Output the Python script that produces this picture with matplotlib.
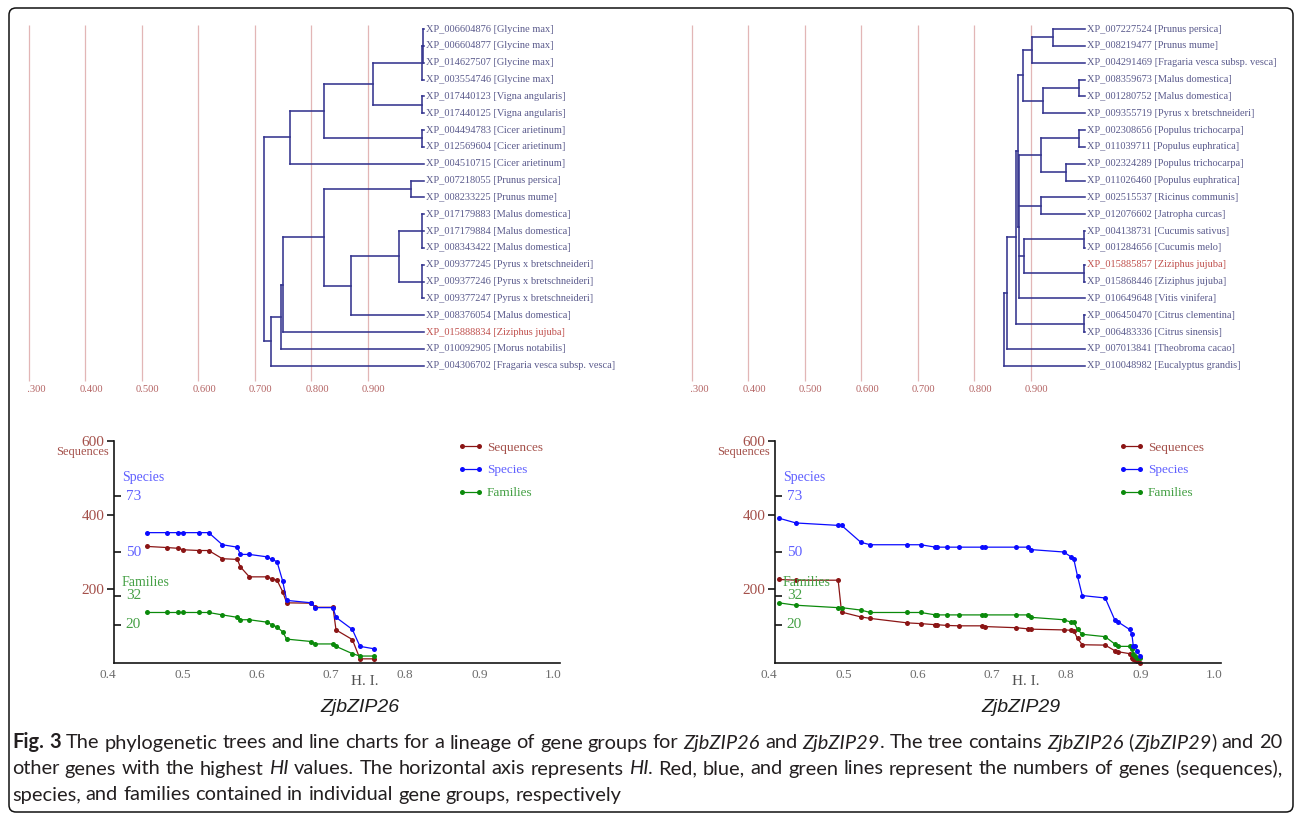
import re
import matplotlib
matplotlib.use("Agg")
import matplotlib.pyplot as plt
from matplotlib.collections import LineCollection
from matplotlib.patches import FancyBboxPatch
from matplotlib.transforms import IdentityTransform, offset_copy, blended_transform_factory

plt.rcParams['font.family'] = ['Liberation Serif', 'DejaVu Serif']

# ------------------------------------------------------------------ data
grid_values = [0.3, 0.4, 0.5, 0.6, 0.7, 0.8, 0.9]
grid_labels = ["0.300", "0.400", "0.500", "0.600", "0.700", "0.800", "0.900"]

left_ids = ["XP_006604876", "XP_006604877", "XP_014627507", "XP_003554746",
            "XP_017440123", "XP_017440125", "XP_004494783", "XP_012569604",
            "XP_004510715", "XP_007218055", "XP_008233225", "XP_017179883",
            "XP_017179884", "XP_008343422", "XP_009377245", "XP_009377246",
            "XP_009377247", "XP_008376054", "XP_015888834", "XP_010092905",
            "XP_004306702"]
left_species = ["Glycine max", "Glycine max", "Glycine max", "Glycine max",
                "Vigna angularis", "Vigna angularis", "Cicer arietinum",
                "Cicer arietinum", "Cicer arietinum", "Prunus persica",
                "Prunus mume", "Malus domestica", "Malus domestica",
                "Malus domestica", "Pyrus x bretschneideri",
                "Pyrus x bretschneideri", "Pyrus x bretschneideri",
                "Malus domestica", "Ziziphus jujuba", "Morus notabilis",
                "Fragaria vesca subsp. vesca"]
left_query = 18
left_leaf_hi = 1.0
# (node HI, [children]) ; integers are leaf indices
left_tree = (0.717, [
    (0.763, [(0.823, [(0.910, [(0.997, [(0.998, [0, 1, 2]), 3]), (0.997, [4, 5])]),
                      (0.997, [6, 7])]), 8]),
    (0.729, [(0.747, [(0.751, [(0.823, [(0.977, [9, 10]),
                                         (0.871, [(0.956, [(0.997, [11, 12, 13]),
                                                           (0.997, [14, 15, 16])]), 17])]),
                               18]), 19]), 20])])

right_ids = ["XP_007227524", "XP_008219477", "XP_004291469", "XP_008359673",
             "XP_001280752", "XP_009355719", "XP_002308656", "XP_011039711",
             "XP_002324289", "XP_011026460", "XP_002515537", "XP_012076602",
             "XP_004138731", "XP_001284656", "XP_015885857", "XP_015868446",
             "XP_010649648", "XP_006450470", "XP_006483336", "XP_007013841",
             "XP_010048982"]
right_species = ["Prunus persica", "Prunus mume", "Fragaria vesca subsp. vesca",
                 "Malus domestica", "Malus domestica", "Pyrus x bretschneideri",
                 "Populus trichocarpa", "Populus euphratica", "Populus trichocarpa",
                 "Populus euphratica", "Ricinus communis", "Jatropha curcas",
                 "Cucumis sativus", "Cucumis melo", "Ziziphus jujuba",
                 "Ziziphus jujuba", "Vitis vinifera", "Citrus clementina",
                 "Citrus sinensis", "Theobroma cacao", "Eucalyptus grandis"]
right_query = 14
right_leaf_hi = 0.996
right_tree = (0.853, [
    (0.858, [(0.874, [(0.877, [(0.887, [(0.903, [(0.939, [0, 1]), 2]),
                                        (0.923, [(0.985, [3, 4]), 5])]),
                               (0.880, [(0.918, [(0.985, [6, 7]), (0.963, [8, 9])]),
                                        (0.918, [10, 11]),
                                        (0.888, [(0.994, [12, 13]), (0.994, [14, 15])]),
                                        16])]),
                      (0.994, [17, 18])]), 19]), 20])

# line chart ZjbZIP26
hi_26 = [0.4445, 0.4710, 0.4858, 0.4930, 0.5146, 0.5272, 0.5456, 0.5658, 0.5699,
         0.5820, 0.6058, 0.6121, 0.6193, 0.6269, 0.6323, 0.6656, 0.6709, 0.6947,
         0.6988, 0.7208, 0.7311, 0.7500]
seq_26 = [315, 312, 310, 306, 304, 304, 282, 280, 260, 233, 233, 228, 224, 193,
          163, 162, 151, 151, 90, 64, 12, 12]
spe_26 = [58, 58, 58, 58, 58, 58, 53, 52, 49, 49, 48, 47, 46, 38, 30, 29, 27, 27,
          23, 18, 11, 10]
fam_26 = [25, 25, 25, 25, 25, 25, 24, 23, 22, 22, 21, 20, 19, 17, 14, 13, 12, 12,
          11, 8, 7, 7]

# line chart ZjbZIP29
hi_29 = [0.4046, 0.4278, 0.4847, 0.4893, 0.5153, 0.5280, 0.5777, 0.5959, 0.6159,
         0.6178, 0.6319, 0.6474, 0.6779, 0.6829, 0.7239, 0.7399, 0.7444, 0.7886,
         0.7986, 0.8023, 0.8073, 0.8137, 0.8446, 0.8574, 0.8624, 0.8774, 0.8806,
         0.8825, 0.8843, 0.8875, 0.8920]
seq_29 = [226, 224, 224, 138, 125, 121, 109, 107, 104, 104, 102, 101, 101, 99, 96,
          93, 92, 90, 89, 87, 67, 50, 49, 34, 31, 26, 14, 11, 8, 5, 2]
spe_29 = [64, 62, 61, 61, 54, 53, 53, 53, 52, 52, 52, 52, 52, 52, 52, 52, 51, 50,
          48, 47, 40, 32, 31, 22, 21, 18, 16, 11, 11, 9, 7]
fam_29 = [29, 28, 27, 27, 26, 25, 25, 25, 24, 24, 24, 24, 24, 24, 24, 24, 23, 22,
          21, 21, 18, 16, 15, 12, 11, 11, 10, 8, 7, 6, 6]

x_ticks = [0.4, 0.5, 0.6, 0.7, 0.8, 0.9, 1.0]
x_tick_labels = ["0.4", "0.5", "0.6", "0.7", "0.8", "0.9", "1.0"]
seq_ticks = [200, 400, 600]
spe_ticks = [73, 50]
fam_ticks = [32, 20]
series_names = ["Sequences", "Species", "Families"]

caption_lines = [
    "**Fig. 3** The phylogenetic trees and line charts for a lineage of gene groups for "
    "*ZjbZIP26* and *ZjbZIP29*. The tree contains *ZjbZIP26* (*ZjbZIP29*) and 20",
    "other genes with the highest *HI* values. The horizontal axis represents *HI*. "
    "Red, blue, and green lines represent the numbers of genes (sequences),",
    "species, and families contained in individual gene groups, respectively",
]

# ------------------------------------------------------------------ styles
TREE_COLOR = '#34348f'
GRID_COLOR = '#e2b6b6'
GRID_TEXT = '#b46464'
LEAF_TEXT = '#5a5a8c'
QUERY_TEXT = '#c0504d'
SEQ_C, SEQ_T = '#8b1515', '#a4504a'
SPE_C, SPE_T = '#0b0bff', '#6060ff'
FAM_C, FAM_T = '#0b8a0b', '#45a045'

W, H, DPI = 1295, 816, 100
fig = plt.figure(figsize=(W / DPI, H / DPI), dpi=DPI)
fig.patch.set_facecolor('white')


def add_px_axes(x0, y0, x1, y1):
    return fig.add_axes([x0 / W, 1 - y1 / H, (x1 - x0) / W, (y1 - y0) / H])


def fxy(x, y):
    return x / W, 1 - y / H


# ------------------------------------------------------------------ trees
LEAF_Y0, LEAF_DY, HI_SCALE = 29.0, 16.835, 565.0


def draw_tree(px_left, px_right, hi0_px, tree, leaf_hi, ids, species, query):
    ax = add_px_axes(px_left, 15, px_right, 400)
    ax.set_xlim(0.3 - (hi0_px - px_left) / HI_SCALE, 0.3 + (px_right - hi0_px) / HI_SCALE)
    ax.set_ylim((400 - LEAF_Y0) / LEAF_DY, (15 - LEAF_Y0) / LEAF_DY)
    ax.axis('off')
    ax.vlines(grid_values, (25 - LEAF_Y0) / LEAF_DY, (381 - LEAF_Y0) / LEAF_DY,
              colors=GRID_COLOR, lw=0.9, zorder=1)
    tick_tr = offset_copy(ax.transData, fig=fig, x=6.4, y=0, units='dots')
    for v, lab in zip(grid_values, grid_labels):
        ax.text(v, (390 - LEAF_Y0) / LEAF_DY, lab, transform=tick_tr, ha='center',
                va='center', fontsize=7.6, color=GRID_TEXT, clip_on=True)
    segs = []

    def walk(node):
        if isinstance(node, int):
            return float(node), leaf_hi
        h, kids = node
        ys = []
        for k in kids:
            ky, kx = walk(k)
            segs.append([(h, ky), (kx, ky)])
            ys.append(ky)
        segs.append([(h, min(ys)), (h, max(ys))])
        return (min(ys) + max(ys)) / 2.0, h

    walk(tree)
    ax.add_collection(LineCollection(segs, colors=TREE_COLOR, linewidths=1.15,
                                     capstyle='projecting', zorder=2))
    lab_tr = offset_copy(ax.transData, fig=fig, x=2.5, y=0, units='dots')
    for i, (gid, sp) in enumerate(zip(ids, species)):
        ax.text(leaf_hi, i, f"{gid} [{sp}]", transform=lab_tr, ha='left', va='center',
                fontsize=7.45, color=QUERY_TEXT if i == query else LEAF_TEXT, clip_on=True)


draw_tree(27.5, 650, 28.5, left_tree, left_leaf_hi, left_ids, left_species, left_query)
draw_tree(690.5, 1295, 691.5, right_tree, right_leaf_hi, right_ids, right_species, right_query)


# ------------------------------------------------------------------ line charts
def draw_chart(xa, hi, seq, spe, fam, title):
    ax = add_px_axes(xa, 440.7, xa + 445.2, 663.3)
    ax.set_xlim(0.4, 1.0)
    ax.set_ylim(0, 600)
    ax.patch.set_alpha(0)
    for s in ['top', 'right']:
        ax.spines[s].set_visible(False)
    for s in ['left', 'bottom']:
        ax.spines[s].set_linewidth(1.2)
        ax.spines[s].set_color('#151515')
    ax.set_xticks([])
    ax.set_yticks(seq_ticks)
    ax.set_yticklabels([str(t) for t in seq_ticks])
    ax.tick_params(axis='y', direction='out', length=5, width=1.2, color='#151515',
                   labelsize=11, labelcolor=SEQ_T, pad=2)

    ax2 = ax.twinx()
    ax2.set_ylim(4, 96)
    ax2.patch.set_alpha(0)
    for s in ax2.spines.values():
        s.set_visible(False)
    ax2.yaxis.set_ticks_position('left')
    ax2.set_yticks(spe_ticks + fam_ticks)
    ax2.tick_params(axis='y', direction='in', length=5, width=1.2, color='#151515',
                    labelleft=False, labelright=False)

    l_seq, = ax.plot(hi, seq, '-o', color=SEQ_C, lw=0.9, ms=3.6, mew=0, clip_on=False)
    l_fam, = ax2.plot(hi, fam, '-o', color=FAM_C, lw=0.9, ms=3.6, mew=0, clip_on=False)
    l_spe, = ax2.plot(hi, spe, '-o', color=SPE_C, lw=0.9, ms=3.6, mew=0, clip_on=False)

    # secondary scale labels
    tr2 = offset_copy(blended_transform_factory(ax2.transAxes, ax2.transData),
                      fig=fig, x=11.5, y=0, units='dots')
    for t in spe_ticks:
        ax2.text(0, t, str(t), transform=tr2, ha='left', va='center', fontsize=11,
                 color=SPE_T)
    for t in fam_ticks:
        ax2.text(0, t, str(t), transform=tr2, ha='left', va='center', fontsize=11,
                 color=FAM_T)
    fig.text(*fxy(xa - 5, 452.3), "Sequences", ha='right', va='center', fontsize=9,
             color=SEQ_T)
    fig.text(*fxy(xa + 7.4, 477.7), "Species", ha='left', va='center', fontsize=10,
             color=SPE_T)
    fig.text(*fxy(xa + 7.4, 582), "Families", ha='left', va='center', fontsize=10,
             color=FAM_T)

    # x tick labels
    trx = offset_copy(blended_transform_factory(ax.transData, ax.transAxes),
                      fig=fig, x=-6, y=-11.7, units='dots')
    for v, lab in zip(x_ticks, x_tick_labels):
        ax.text(v, 0, lab, transform=trx, ha='center', va='center', fontsize=9.5,
                color='#6c6c6c')
    fig.text(*fxy(xa + 250.7, 681.5), "H. I.", ha='center', va='center', fontsize=11,
             color='#505050')
    fig.text(*fxy(xa + 245.7, 707), title, ha='center', va='center', fontsize=14,
             family=['Liberation Sans', 'DejaVu Sans'], style='italic', color='#1e1e1e')

    leg = ax2.legend([l_seq, l_spe, l_fam], series_names, loc='upper left',
                     bbox_to_anchor=fxy(xa + 343.5, 441.3),
                     bbox_transform=fig.transFigure, frameon=False, numpoints=2,
                     handlelength=1.89, handletextpad=0.3, labelspacing=0.81,
                     borderpad=0, borderaxespad=0, prop={'size': 9.5})
    for txt, c in zip(leg.get_texts(), [SEQ_T, SPE_T, FAM_T]):
        txt.set_color(c)


draw_chart(114.3, hi_26, seq_26, spe_26, fam_26, "ZjbZIP26")
draw_chart(775.3, hi_29, seq_29, spe_29, fam_29, "ZjbZIP29")

# ------------------------------------------------------------------ frame
frame = FancyBboxPatch((9, 4), 1284, 804, boxstyle='round,pad=0,rounding_size=7',
                       transform=IdentityTransform(), fill=False, lw=1.1,
                       ec='#111111')
fig.patches.append(frame)

# ------------------------------------------------------------------ caption
renderer = fig.canvas.get_renderer()
CAP_FONT = ['Liberation Sans Narrow', 'Lato', 'DejaVu Sans']


def seg_props(style, fs):
    return dict(fontsize=fs, family=CAP_FONT, color='#231f20',
                fontweight='bold' if style == 'b' else 'normal',
                fontstyle='italic' if style == 'i' else 'normal')


def ink_w(s, style, fs):
    t = fig.text(0, 0, s, **seg_props(style, fs))
    w = t.get_window_extent(renderer).width
    t.remove()
    return w


def adv_w(s, style, fs):
    # advance width: measured between two bar glyphs
    return ink_w('|' + s + '|', style, fs) - ink_w('||', style, fs)


def parse_words(line):
    runs = []
    for part in re.split(r'(\*\*[^*]+\*\*|\*[^*]+\*)', line):
        if not part:
            continue
        if part.startswith('**'):
            runs.append((part[2:-2], 'b'))
        elif part.startswith('*'):
            runs.append((part[1:-1], 'i'))
        else:
            runs.append((part, 'n'))
    words = [[]]
    for text, style in runs:
        pieces = text.split(' ')
        for k, p in enumerate(pieces):
            if k > 0:
                words.append([])
            if p:
                words[-1].append((p, style))
    return [w for w in words if w]


X_L, X_R = 12.0, 1282.0
base_fs = 13.0
w0 = parse_words(caption_lines[0])
space0 = adv_w(' ', 'n', base_fs)
nat = sum(adv_w(s, st, base_fs) for w in w0 for s, st in w) + space0 * (len(w0) - 1)
cap_fs = base_fs * (X_R - X_L) / nat
space = adv_w(' ', 'n', cap_fs)

baselines = [748.5, 774.5, 800.5]
justify = [True, True, False]
for line, yb, just in zip(caption_lines, baselines, justify):
    words = parse_words(line)
    widths = [[adv_w(s, st, cap_fs) for s, st in w] for w in words]
    total = sum(sum(ws) for ws in widths)
    gap = (X_R - X_L - total) / (len(words) - 1) if just else space
    x = X_L
    for w, ws in zip(words, widths):
        for (s, st), sw in zip(w, ws):
            fig.text(*fxy(x, yb), s, ha='left', va='baseline', **seg_props(st, cap_fs))
            x += sw
        x += gap

fig.savefig('out.png', dpi=DPI, facecolor='white')
